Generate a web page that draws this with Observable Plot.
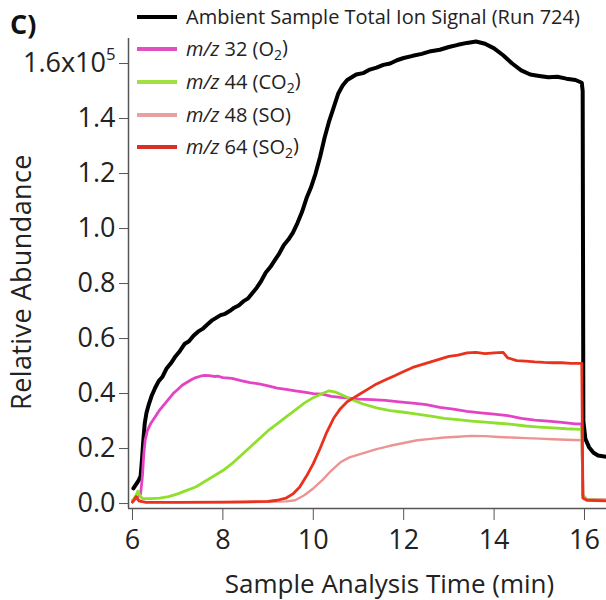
<!DOCTYPE html>
<html><head><meta charset="utf-8">
<script src="https://cdn.jsdelivr.net/npm/d3@7"></script>
<script src="https://cdn.jsdelivr.net/npm/@observablehq/plot@0.6"></script>
<style>body{margin:0;background:#fff}#chart{width:606px;height:600px}</style>
</head><body><div id="chart"></div>
<script>
// Tick labels
const xTicks = [6, 8, 10, 12, 14, 16];
const yTicks = [0, 0.2, 0.4, 0.6, 0.8, 1.0, 1.2, 1.4, 1.6];

// Ambient Sample Total Ion Signal (x10^5)
const tisT = [6.02,6.08,6.14,6.18,6.21,6.24,6.27,6.31,6.36,6.42,6.50,6.58,6.66,6.75,6.85,6.95,7.05,7.15,7.25,7.35,7.45,7.55,7.65,7.75,7.85,7.95,8.05,8.15,8.25,8.35,8.45,8.55,8.65,8.75,8.85,8.95,9.05,9.15,9.25,9.35,9.45,9.55,9.65,9.75,9.85,9.95,10.05,10.15,10.25,10.35,10.45,10.55,10.65,10.75,10.85,10.95,11.1,11.25,11.4,11.55,11.7,11.85,12.0,12.2,12.4,12.6,12.8,13.0,13.2,13.4,13.6,13.8,14.0,14.2,14.4,14.6,14.8,15.0,15.2,15.4,15.6,15.8,15.94,15.96,15.975,16.02,16.1,16.2,16.3,16.49];
const tisV = [0.055,0.07,0.085,0.10,0.16,0.23,0.29,0.33,0.36,0.39,0.42,0.445,0.46,0.49,0.51,0.535,0.555,0.58,0.59,0.61,0.625,0.635,0.65,0.665,0.675,0.685,0.69,0.70,0.712,0.72,0.735,0.745,0.765,0.785,0.81,0.84,0.86,0.885,0.91,0.94,0.96,0.985,1.02,1.06,1.11,1.15,1.20,1.26,1.33,1.39,1.44,1.49,1.52,1.54,1.55,1.56,1.565,1.578,1.585,1.595,1.60,1.612,1.62,1.628,1.635,1.645,1.65,1.66,1.668,1.675,1.68,1.672,1.655,1.63,1.60,1.575,1.56,1.555,1.55,1.552,1.545,1.54,1.53,1.50,0.30,0.235,0.205,0.185,0.175,0.17];

// m/z 32 (O2)
const o2T = [6.0,6.1,6.18,6.22,6.25,6.28,6.33,6.4,6.5,6.6,6.7,6.8,6.9,7.0,7.1,7.2,7.3,7.4,7.5,7.6,7.7,7.8,7.9,8.0,8.2,8.4,8.6,8.8,9.0,9.2,9.4,9.6,9.8,10.0,10.2,10.4,10.6,10.8,11.0,11.3,11.6,11.9,12.2,12.5,12.8,13.1,13.4,13.7,14.0,14.3,14.6,14.9,15.2,15.5,15.8,15.94,15.965,16.05,16.49];
const o2V = [0.01,0.02,0.035,0.10,0.18,0.23,0.265,0.29,0.315,0.34,0.36,0.38,0.40,0.415,0.43,0.44,0.45,0.458,0.463,0.466,0.465,0.462,0.463,0.458,0.455,0.447,0.44,0.435,0.428,0.42,0.415,0.41,0.405,0.40,0.398,0.39,0.386,0.383,0.38,0.378,0.375,0.37,0.365,0.36,0.35,0.343,0.335,0.33,0.325,0.32,0.31,0.303,0.30,0.295,0.29,0.29,0.03,0.015,0.012];

// m/z 44 (CO2)
const co2T = [6.0,6.08,6.12,6.16,6.22,6.4,6.6,6.8,7.0,7.2,7.4,7.6,7.8,8.0,8.2,8.4,8.6,8.8,9.0,9.2,9.4,9.6,9.8,10.0,10.2,10.35,10.5,10.7,10.9,11.1,11.4,11.7,12.0,12.3,12.6,12.9,13.2,13.5,13.8,14.1,14.4,14.7,15.0,15.3,15.6,15.94,15.965,16.05,16.49];
const co2V = [0.01,0.03,0.045,0.03,0.018,0.018,0.02,0.025,0.035,0.048,0.06,0.08,0.10,0.12,0.145,0.175,0.205,0.235,0.265,0.29,0.315,0.34,0.365,0.385,0.40,0.41,0.405,0.39,0.375,0.362,0.348,0.338,0.332,0.325,0.318,0.31,0.305,0.30,0.296,0.292,0.288,0.282,0.278,0.275,0.272,0.27,0.03,0.015,0.012];

// m/z 48 (SO)
const soT = [6.0,6.1,6.2,7.0,8.0,9.0,9.4,9.6,9.8,10.0,10.2,10.4,10.6,10.8,11.0,11.2,11.4,11.7,12.0,12.3,12.6,12.9,13.2,13.5,13.8,14.1,14.4,14.7,15.0,15.3,15.6,15.94,15.965,16.05,16.49];
const soV = [0.005,0.02,0.006,0.005,0.005,0.006,0.008,0.012,0.03,0.055,0.085,0.12,0.15,0.168,0.178,0.188,0.198,0.21,0.22,0.23,0.235,0.24,0.243,0.246,0.245,0.242,0.24,0.238,0.236,0.234,0.232,0.23,0.02,0.015,0.014];

// m/z 64 (SO2)
const so2T = [6.0,6.08,6.14,6.3,7.0,8.0,8.5,9.0,9.2,9.4,9.55,9.7,9.85,10.0,10.15,10.3,10.45,10.6,10.75,10.9,11.05,11.2,11.4,11.6,11.8,12.0,12.2,12.4,12.6,12.8,13.0,13.2,13.4,13.6,13.8,14.0,14.2,14.3,14.5,14.7,14.9,15.1,15.3,15.5,15.7,15.94,15.965,16.05,16.49];
const so2V = [0.005,0.025,0.01,0.004,0.004,0.005,0.006,0.008,0.012,0.02,0.035,0.06,0.10,0.145,0.20,0.26,0.31,0.345,0.37,0.385,0.40,0.415,0.435,0.45,0.465,0.48,0.495,0.505,0.515,0.525,0.535,0.54,0.548,0.55,0.545,0.548,0.55,0.53,0.52,0.518,0.515,0.513,0.512,0.512,0.51,0.51,0.02,0.012,0.01];

const seriesNames = ["tis", "o2", "co2", "so", "so2"];
const seriesColors = ["#000000", "#e444c4", "#8fe02c", "#ec9494", "#e8321e"];
const seriesWidths = [4, 2.8, 2.8, 2.4, 2.8];
const legendMain = ["Ambient Sample Total Ion Signal (Run 724)", " 32 (O", " 44 (CO", " 48 (SO)", " 64 (SO"];
const legendSub = ["", "2", "2", "", "2"];
const legendSwatch = ["#000000", "#e050c0", "#a0e040", "#e8a0a0", "#d83028"];

const toRows = (T, V) => T.map((t, i) => ({t, v: V[i]}));
const data = [toRows(tisT, tisV), toRows(o2T, o2V), toRows(co2T, co2V), toRows(soT, soV), toRows(so2T, so2V)];

const xDom = [5.912, 16.487];
const yDom = [-0.018, 1.691];
const FONT = "'Open Sans', sans-serif";

const plot = Plot.plot({
  width: 606, height: 600,
  marginLeft: 128, marginRight: 0, marginTop: 38, marginBottom: 92,
  style: {fontFamily: FONT, fontSize: "27px", color: "#222", background: "white", overflow: "visible"},
  x: {domain: xDom},
  y: {domain: yDom},
  marks: [
    Plot.axisX({ticks: xTicks, tickSize: 12, tickPadding: 9, label: null, stroke: "#555", fontSize: 27}),
    Plot.axisY({ticks: yTicks, tickSize: 9, tickPadding: 4, label: null, stroke: "#555", fontSize: 27, tickFormat: d => d.toFixed(1)}),
    Plot.ruleX([xDom[0]], {stroke: "#555", strokeWidth: 1.5}),
    Plot.ruleY([yDom[0]], {stroke: "#555", strokeWidth: 1.5}),
    ...data.map((rows, i) => Plot.line(rows, {x: "t", y: "v", stroke: seriesColors[i], strokeWidth: seriesWidths[i], strokeLinejoin: "round"})),
    Plot.text(["Sample Analysis Time (min)"], {frameAnchor: "bottom", dx: 22, dy: 84, fontSize: 26, fill: "#222"})
  ]
});

const svg = d3.select(plot);
// superscript on top y tick
svg.selectAll("text").each(function() {
  const t = d3.select(this);
  if (t.text() === "1.6") {
    t.text("1.6x10");
    t.append("tspan").attr("dy", "-0.75em").attr("font-size", "0.62em").text("5");
  }
});
// y axis title
svg.append("text").attr("transform", "translate(22,282) rotate(-90)").attr("text-anchor", "middle")
  .attr("dy", "0.35em").attr("font-size", 27).attr("letter-spacing", "0.4px").attr("font-family", FONT).attr("fill", "#222").text("Relative Abundance");
// panel letter
svg.append("text").attr("x", 10).attr("y", 34).attr("text-anchor", "start").attr("font-size", 27).attr("font-weight", "bold")
  .attr("font-family", FONT).attr("fill", "#111").text("C)");
// legend
const rowsY = [17, 49, 82, 115, 147];
const lg = svg.append("g").attr("font-family", FONT).attr("font-size", 20).attr("fill", "#222").attr("text-anchor", "start");
legendMain.forEach((label, i) => {
  lg.append("line").attr("x1", 137).attr("x2", 177).attr("y1", rowsY[i]).attr("y2", rowsY[i])
    .attr("stroke", legendSwatch[i]).attr("stroke-width", 4);
  const tx = lg.append("text").attr("x", 186).attr("y", rowsY[i]).attr("dy", "0.35em");
  if (i === 0) { tx.text(label); return; }
  tx.append("tspan").attr("font-style", "italic").text("m/z");
  tx.append("tspan").text(label);
  if (legendSub[i]) {
    tx.append("tspan").attr("dy", "0.3em").attr("font-size", "0.7em").text(legendSub[i]);
    tx.append("tspan").attr("dy", "-0.3em").text(")");
  }
});
document.getElementById("chart").append(plot);
</script>
</body></html>
